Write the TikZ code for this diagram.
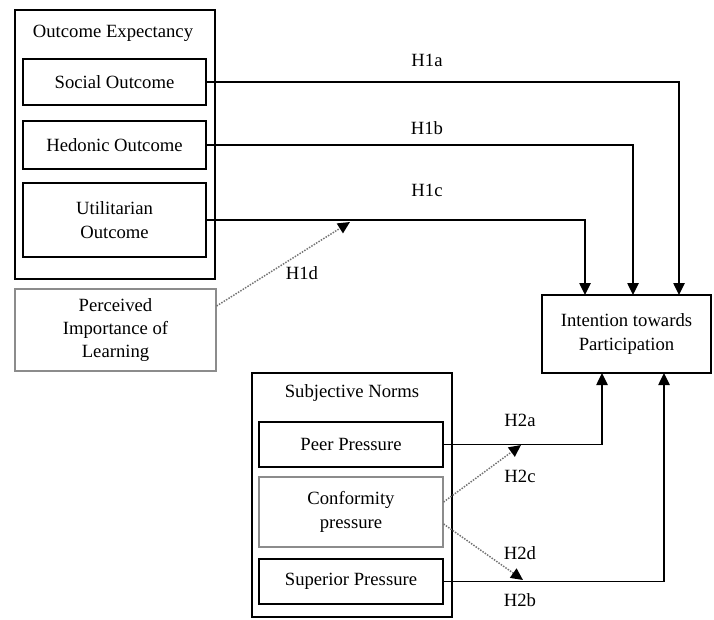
\documentclass[tikz,border=0pt]{standalone}
\usepackage{fontspec}
\setmainfont{Liberation Serif}
\usetikzlibrary{arrows.meta,calc}
\tikzset{
  px/.style={x=0.75pt,y=-0.75pt},
  box/.style={draw=black,line width=1.2pt,inner sep=0pt,align=center,font=\fontsize{14pt}{17.5pt}\selectfont},
  graybox/.style={box,draw=black!45,line width=0.9pt},
  lbl/.style={inner sep=0pt,font=\fontsize{14pt}{17.5pt}\selectfont},
  arr/.style={line width=1.1pt,-{Triangle[length=9pt,width=8.5pt]}},
  dotarr/.style={line width=1.1pt,draw=black!55,densely dotted,-{Triangle[length=9pt,width=8.5pt,color=black]}}
}
\begin{document}
\begin{tikzpicture}[px]
\useasboundingbox[fill=white] (0,0) rectangle (714,619);
% Outcome Expectancy group
\node[box,minimum width=150pt,minimum height=201.75pt] (oe) at (115,144.5) {};
\node[lbl] (oet) at (113,33) {Outcome Expectancy};
\node[box,minimum width=137.25pt,minimum height=34.5pt] (soc) at (114.5,82) {Social Outcome};
\node[box,minimum width=137.25pt,minimum height=36pt] (hed) at (114.5,145) {Hedonic Outcome};
\node[box,minimum width=137.25pt,minimum height=55.5pt] (uti) at (114.5,220) {Utilitarian\\Outcome};
% Perceived importance
\node[graybox,minimum width=150.75pt,minimum height=61.5pt] (perc) at (115.5,330) {Perceived\\Importance of\\Learning};
% Intention
\node[box,minimum width=126.75pt,minimum height=58.5pt] (int) at (626.5,334) {Intention towards\\Participation};
% Subjective Norms group
\node[box,minimum width=150pt,minimum height=183pt] (sn) at (352,495) {};
\node[lbl] (snt) at (352,393) {Subjective Norms};
\node[box,minimum width=138pt,minimum height=33.75pt] (peer) at (351,444.5) {Peer Pressure};
\node[graybox,minimum width=138pt,minimum height=52.5pt] (conf) at (351,512) {Conformity\\pressure};
\node[box,minimum width=138pt,minimum height=33.75pt] (sup) at (351,581.5) {Superior Pressure};
% arrow end points
\coordinate (ia) at (679,295);
\coordinate (ib) at (633,295);
\coordinate (ic) at (585,295);
\coordinate (i2a) at (602,373);
\coordinate (i2b) at (664,373);
\coordinate (h1dend) at (350,222);
\coordinate (h2cend) at (521,445);
\coordinate (h2dend) at (523,580);
% connectors
\draw[arr] (soc.east) -| (ia);
\draw[arr] (hed.east) -| (ib);
\draw[arr] (uti.east) -| (ic);
\draw[arr] (peer.east) -| (i2a);
\draw[arr] (sup.east) -| (i2b);
\draw[dotarr] ($(perc.east)+(0,-24)$) -- (h1dend);
\draw[dotarr] ($(conf.east)+(0,-10)$) -- (h2cend);
\draw[dotarr] ($(conf.east)+(0,12)$) -- (h2dend);
% labels
\node[lbl] (l1a) at (427,60) {H1a};
\node[lbl] (l1b) at (427,128) {H1b};
\node[lbl] (l1c) at (427,190) {H1c};
\node[lbl] (l1d) at (302,273) {H1d};
\node[lbl] (l2a) at (520,420) {H2a};
\node[lbl] (l2c) at (520,476) {H2c};
\node[lbl] (l2d) at (520,553) {H2d};
\node[lbl] (l2b) at (520,600) {H2b};
\end{tikzpicture}
\end{document}
